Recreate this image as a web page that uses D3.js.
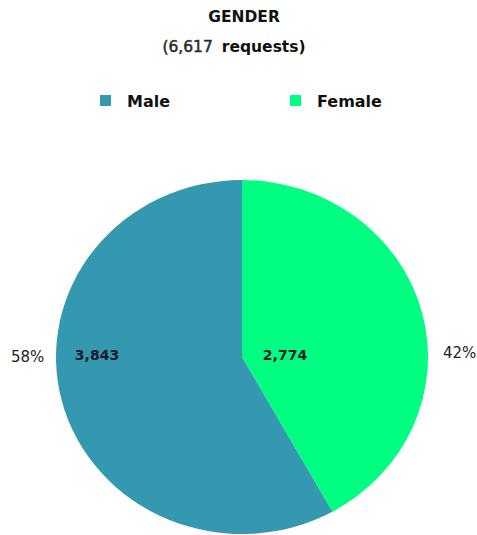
<!DOCTYPE html>
<html><head><meta charset="utf-8">
<script src="https://cdn.jsdelivr.net/npm/d3@7"></script>
<style>body{margin:0;background:#fff}svg{display:block}</style>
</head><body>
<svg id="c" width="477" height="535"></svg>
<script>
const categories = ["Male", "Female"];
const values = [3843, 2774];
const colors = ["#3598b1", "#00ff80"];
const title = "GENDER";
const subtitleCount = "(6,617";
const subtitleWord = "requests)";

const svg = d3.select("#c");
const font = "'DejaVu Sans', Verdana, sans-serif";
const total = d3.sum(values);

svg.append("text").attr("x", 244).attr("y", 22).attr("text-anchor", "middle")
  .attr("font-family", font).attr("font-weight", "bold").attr("font-size", 15.5).attr("fill", "#111").text(title);
const sub = svg.append("text").attr("x", 234).attr("y", 52).attr("text-anchor", "middle")
  .attr("font-family", font).attr("font-size", 15.5).attr("fill", "#111");
sub.append("tspan").attr("fill", "#2a2a2a").attr("stroke", "#2a2a2a").attr("stroke-width", 0.5).text(subtitleCount);
sub.append("tspan").attr("dx", 9).attr("font-weight", "bold").text(subtitleWord);

// legend
const legX = [100, 290];
categories.forEach((c, i) => {
  const g = svg.append("g").attr("transform", `translate(${legX[i]},95)`);
  g.append("rect").attr("width", 11).attr("height", 11).attr("fill", colors[i]);
  g.append("text").attr("x", 27).attr("y", 12).attr("font-family", font).attr("font-weight", "bold")
    .attr("font-size", 16).attr("fill", "#111").text(c);
});

const cx = 242, cy = 357, rx = 186, ry = 177;
const pieCW = d3.pie().sort(null).value(d => d);
const arcs = pieCW([values[1], values[0]]); // female then male, clockwise from 12 o'clock
const arc = d3.arc().innerRadius(0).outerRadius(rx);
const g = svg.append("g").attr("transform", `translate(${cx},${cy}) scale(1,${ry / rx})`);
const idx = [1, 0];
g.selectAll("path").data(arcs).join("path")
  .attr("d", arc).attr("fill", (d, i) => colors[idx[i]]);

const fmt = d3.format(",");
const pct = v => Math.round(v / total * 100) + "%";
const labels = [{x: 97, t: fmt(values[0])}, {x: 285, t: fmt(values[1])}];
labels.forEach(l => svg.append("text").attr("x", l.x).attr("y", 360).attr("text-anchor", "middle")
  .attr("font-family", font).attr("font-weight", "bold").attr("font-size", 14).attr("fill", "#1a1a2a").text(l.t));
svg.append("text").attr("x", 11).attr("y", 362).attr("font-family", font).attr("font-size", 15)
  .attr("fill", "#222").text(pct(values[0]));
svg.append("text").attr("x", 443).attr("y", 358).attr("font-family", font).attr("font-size", 15)
  .attr("fill", "#222").text(pct(values[1]));
</script>
</body></html>
